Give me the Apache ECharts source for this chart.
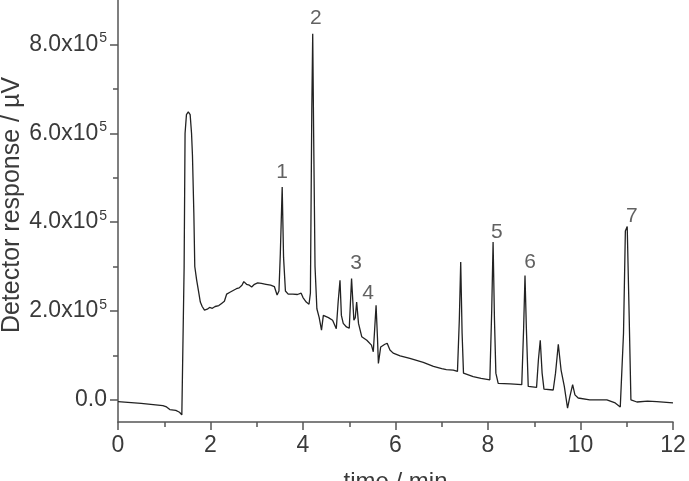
<!DOCTYPE html>
<html><head><meta charset="utf-8">
<script src="https://cdn.jsdelivr.net/npm/echarts@6/dist/echarts.min.js"></script>
<style>html,body{margin:0;padding:0;background:#fff}#c{width:689px;height:481px}</style>
</head><body><div id="c"></div>
<script>
// retention time (min)
const timeMin = [
0.00,0.50,0.97,1.05,1.12,1.25,1.33,1.38,1.41,1.43,1.45,1.48,1.52,1.56,1.59,1.61,1.64,1.66,1.70,1.74,
1.78,1.82,1.87,1.93,1.98,2.04,2.10,2.18,2.24,2.30,2.35,2.42,2.49,2.56,2.62,2.68,2.72,2.78,2.84,2.89,
2.95,3.02,3.10,3.20,3.30,3.38,3.44,3.48,3.51,3.55,3.58,3.62,3.68,3.78,3.88,3.96,4.00,4.07,4.13,4.16,
4.19,4.21,4.23,4.26,4.30,4.35,4.40,4.44,4.55,4.64,4.72,4.76,4.80,4.83,4.87,4.94,5.00,5.05,5.10,5.13,
5.16,5.20,5.27,5.38,5.48,5.52,5.55,5.58,5.61,5.63,5.68,5.72,5.77,5.82,5.88,5.95,6.10,6.31,6.60,6.82,
7.00,7.10,7.25,7.34,7.38,7.41,7.44,7.47,7.68,7.85,8.04,8.08,8.11,8.14,8.17,8.22,8.48,8.73,8.77,8.80,
8.83,8.87,9.05,9.09,9.13,9.17,9.21,9.41,9.46,9.52,9.58,9.65,9.72,9.77,9.83,9.88,9.95,10.20,10.57,10.75,
10.86,10.93,10.97,11.01,11.05,11.09,11.22,11.45,11.65,12.00
];
// detector response in units of 1e5 µV
const responseE5 = [
-0.04,-0.08,-0.13,-0.16,-0.22,-0.24,-0.28,-0.34,-0.36,3.0,6.0,6.42,6.48,6.42,6.0,5.5,4.2,3.0,2.7,2.45,
2.2,2.1,2.02,2.04,2.08,2.06,2.1,2.12,2.17,2.22,2.38,2.42,2.46,2.5,2.52,2.58,2.66,2.6,2.58,2.54,
2.6,2.63,2.62,2.6,2.58,2.55,2.36,2.45,3.3,4.79,3.2,2.45,2.38,2.38,2.37,2.4,2.3,2.2,2.15,2.4,
6.5,8.24,6.0,3.0,2.05,1.85,1.57,1.9,1.85,1.79,1.6,2.2,2.69,1.9,1.72,1.64,1.61,2.73,1.79,1.85,
2.2,1.72,1.42,1.34,1.23,1.08,1.6,2.13,1.4,0.82,1.19,1.23,1.25,1.27,1.12,1.05,0.99,0.93,0.84,0.75,
0.7,0.68,0.67,0.64,1.8,3.1,1.5,0.6,0.52,0.48,0.45,2.0,3.55,1.8,0.6,0.37,0.36,0.34,1.6,2.8,
1.6,0.3,0.28,0.9,1.34,0.6,0.24,0.22,0.6,1.25,0.67,0.3,-0.19,0.07,0.34,0.11,0.04,0.0,0.0,-0.07,
-0.16,1.5,3.8,3.9,2.0,0.0,-0.05,-0.03,-0.04,-0.07
];
const peakNames = ['1','2','3','4','5','6','7'];
const peakLabelTime = [3.55, 4.28, 5.15, 5.41, 8.19, 8.91, 11.11];
const peakLabelE5 = [5.13, 8.58, 3.07, 2.40, 3.78, 3.09, 4.14];
const yMajorE5 = [0, 2, 4, 6, 8];
const yMinorE5 = [1, 3, 5, 7];
const xTitle = 'time / min';
const yTitle = 'Detector response / µV';

const FONT = 'Liberation Sans, Arial, sans-serif';
const TXT = '#3a3a3a';
const AX = '#555';
const yMin = -0.5e5, yMax = 9e5;

const lineData = timeMin.map((t, i) => [t, responseE5[i] * 1e5]);
const peakData = peakNames.map((n, i) => ({ name: n, value: [peakLabelTime[i], peakLabelE5[i] * 1e5] }));

const chart = echarts.init(document.getElementById('c'), null, { renderer: 'canvas' });
chart.setOption({
  animation: false,
  backgroundColor: '#fff',
  grid: { left: 118, right: 16, top: 0, bottom: 59, containLabel: false, outerBoundsMode: 'none' },
  xAxis: {
    type: 'value', min: 0, max: 12, interval: 2,
    name: xTitle, nameLocation: 'middle', nameGap: 48, nameMoveOverlap: false,
    nameTextStyle: { fontFamily: FONT, fontSize: 24, color: TXT },
    axisLine: { show: true, onZero: false, lineStyle: { color: AX, width: 1.5 } },
    axisTick: { show: true, inside: false, length: 8, lineStyle: { color: AX, width: 1.5 } },
    minorTick: { show: true, splitNumber: 2, length: 5, lineStyle: { color: AX, width: 1.5 } },
    axisLabel: { fontFamily: FONT, fontSize: 23, color: TXT, margin: 12 },
    splitLine: { show: false }
  },
  yAxis: [{
    type: 'value', min: yMin, max: yMax,
    name: yTitle, nameLocation: 'middle', nameGap: 93, nameRotate: 90, nameMoveOverlap: false,
    nameTextStyle: { fontFamily: FONT, fontSize: 25, color: TXT, padding: [0, 0, 0, 12] },
    axisLine: { show: true, onZero: false, lineStyle: { color: AX, width: 1.5 } },
    axisTick: { show: true, inside: false, length: 8, customValues: yMajorE5.map(v => v * 1e5), lineStyle: { color: AX, width: 1.5 } },
    axisLabel: {
      margin: 11, customValues: yMajorE5.map(v => v * 1e5),
      formatter: v => v === 0 ? '{b|0.0}' : '{b|' + (v / 1e5).toFixed(1) + 'x10}{s|5}',
      rich: {
        b: { fontFamily: FONT, fontSize: 23, color: TXT, lineHeight: 26 },
        s: { fontFamily: FONT, fontSize: 14, color: TXT, lineHeight: 26, verticalAlign: 'top', padding: [0, 0, 0, 1] }
      }
    },
    splitLine: { show: false }
  }, {
    type: 'value', min: yMin, max: yMax, position: 'left', offset: 0,
    axisLine: { show: false, onZero: false },
    axisTick: { show: true, inside: false, length: 5, customValues: yMinorE5.map(v => v * 1e5), lineStyle: { color: AX, width: 1.5 } },
    axisLabel: { show: false },
    splitLine: { show: false }
  }],
  series: [{
    type: 'line', data: lineData, showSymbol: false, symbol: 'none',
    lineStyle: { color: '#222', width: 1.3 }, silent: true
  }, {
    type: 'scatter', data: peakData, symbolSize: 0, silent: true,
    label: { show: true, position: 'inside', formatter: p => p.name, fontFamily: FONT, fontSize: 21, color: TXT }
  }]
});
</script>
</body></html>
